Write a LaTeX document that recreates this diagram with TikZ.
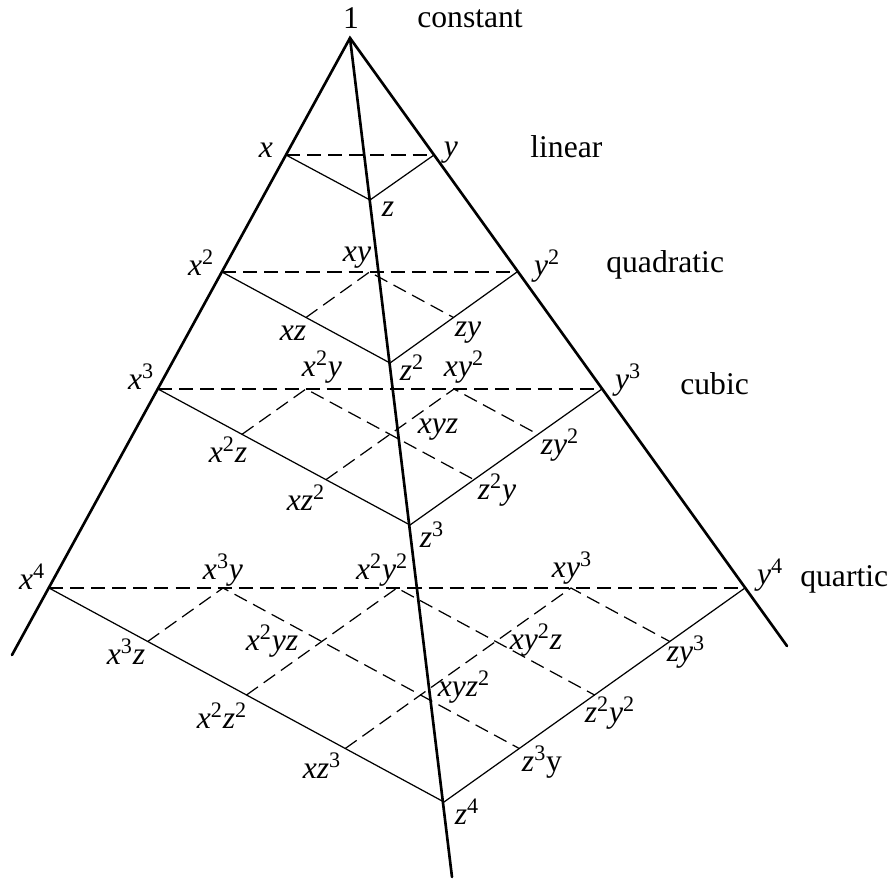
\documentclass[tikz,border=0pt]{standalone}
\usepackage{fontspec}
\setmainfont{Liberation Serif}
\usetikzlibrary{calc}
\tikzset{
    edge/.style  = {line width=1.5pt, line cap=round},
    side/.style  = {line width=0.7pt},
    grid/.style  = {line width=0.7pt, dash pattern=on 8pt off 4pt},
    term/.style  = {font=\fontsize{18}{22}\selectfont\itshape, inner sep=0pt},
    order/.style = {font=\fontsize{18}{22}\selectfont, inner sep=0pt,
                    anchor=base west}
}
\newcommand\pw[1]{\textsuperscript{\upshape #1}}

\begin{document}
\begin{tikzpicture}[x=0.2mm, y=-0.2mm]
\useasboundingbox (0,0) rectangle (894,879);
% Apex (the constant term) and the three pyramid edges.
\coordinate (apex) at (350,38);
\coordinate (xend) at (12,655);
\coordinate (yend) at (787,646);
\coordinate (zend) at (452,877);
\draw[edge] (xend) -- (apex) -- (yend);
\draw[edge] (apex) -- (zend);

% Corners x^n, y^n, z^n of each degree layer.
\coordinate (x1) at (286,155); \coordinate (y1) at (434,155);
\coordinate (z1) at (370,200);
\coordinate (x2) at (222,272); \coordinate (y2) at (517,272);
\coordinate (z2) at (390,363);
\coordinate (x3) at (158,389); \coordinate (y3) at (602,389);
\coordinate (z3) at (410,525);
\coordinate (x4) at (49,588);  \coordinate (y4) at (745,588);
\coordinate (z4) at (444,802);

% Layer outlines: dashed back edge, solid front edges.
\foreach \n in {1,...,4} {
  \draw[grid] (x\n) -- (y\n);
  \draw[side] (x\n) -- (z\n) -- (y\n);
}
% Interior monomials of each layer.
\foreach \n in {2,3,4} {
  \pgfmathtruncatemacro\m{\n-1}
  \foreach \k in {1,...,\m}
    \draw[grid] ($(x\n)!\k/\n!(z\n)$) -- ($(x\n)!\k/\n!(y\n)$)
      -- ($(y\n)!1-\k/\n!(z\n)$);
}

% Degree names.
\node[order, anchor=center] (one) at (351,18) {1};
\node[order] (constant) at (417,28) {constant};
\node[order] (linear) at (530,158) {linear};
\node[order] (quadratic) at (606,273) {quadratic};
\node[order] (cubic) at (680,395) {cubic};
\node[order] (quartic) at (800,587) {quartic};

% Monomial labels.
\node[term] (tx) at (266,150) {x};
\node[term] (ty) at (451,153) {y};
\node[term] (tz) at (388,209) {z};

\node[term] (tx2) at (201,263) {x\pw{2}};
\node[term] (ty2) at (547,266) {y\pw{2}};
\node[term] (txy) at (357,258) {xy};
\node[term] (txz) at (293,333) {xz};
\node[term] (tzy) at (468,333) {zy};
\node[term] (tz2) at (412,368) {z\pw{2}};

\node[term] (tx3) at (141,377) {x\pw{3}};
\node[term] (ty3) at (628,380) {y\pw{3}};
\node[term] (tx2y) at (322,367) {x\pw{2}y};
\node[term] (txy2) at (464,367) {xy\pw{2}};
\node[term] (txyz) at (438,430) {xyz};
\node[term] (tx2z) at (228,450) {x\pw{2}z};
\node[term] (tzy2) at (560,445) {zy\pw{2}};
\node[term] (txz2) at (306,498) {xz\pw{2}};
\node[term] (tz2y) at (497,490) {z\pw{2}y};
\node[term] (tz3) at (432,535) {z\pw{3}};

\node[term] (tx4) at (32,577) {x\pw{4}};
\node[term] (ty4) at (770,575) {y\pw{4}};
\node[term] (tx3y) at (223,570) {x\pw{3}y};
\node[term] (tx2y2) at (382,570) {x\pw{2}y\pw{2}};
\node[term] (txy3) at (572,568) {xy\pw{3}};
\node[term] (tx3z) at (126,652) {x\pw{3}z};
\node[term] (tx2yz) at (272,641) {x\pw{2}yz};
\node[term] (txy2z) at (536,640) {xy\pw{2}z};
\node[term] (tzy3) at (686,652) {zy\pw{3}};
\node[term] (tx2z2) at (222,716) {x\pw{2}z\pw{2}};
\node[term] (txyz2) at (464,687) {xyz\pw{2}};
\node[term] (tz2y2) at (610,713) {z\pw{2}y\pw{2}};
\node[term] (txz3) at (322,766) {xz\pw{3}};
\node[term] (tz3y) at (542,762) {z\pw{3}\upshape y};
\node[term] (tz4) at (467,812) {z\pw{4}};
\end{tikzpicture}
\end{document}
